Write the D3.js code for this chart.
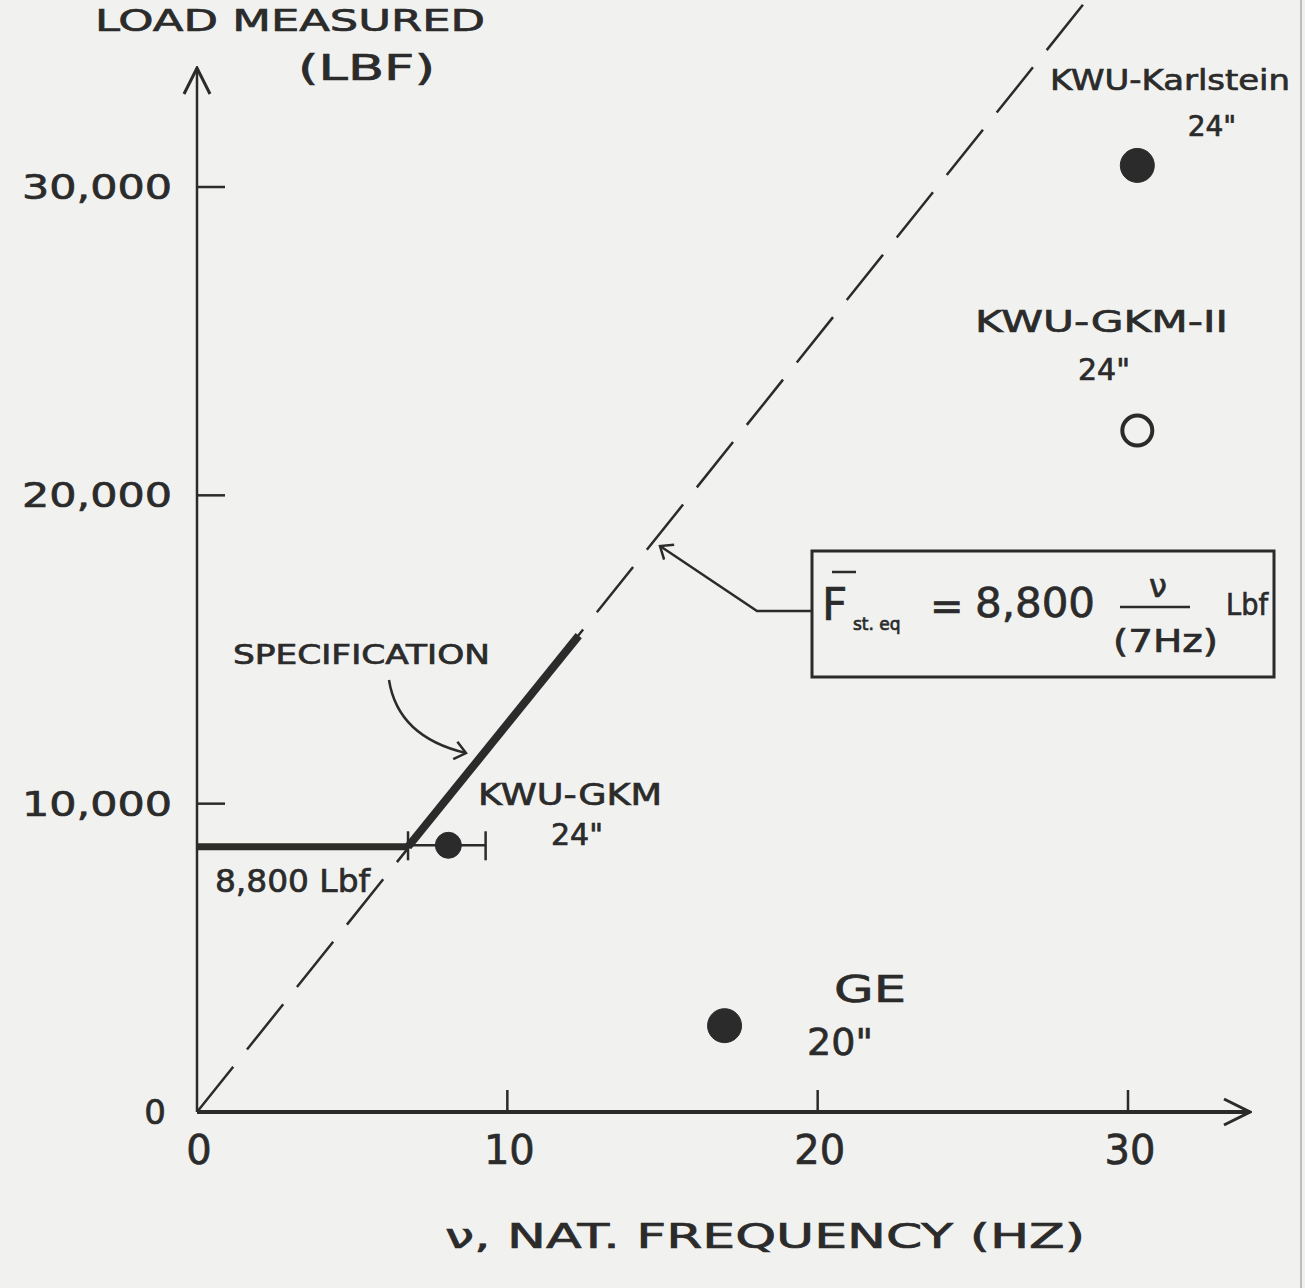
<!DOCTYPE html>
<html>
<head>
<meta charset="utf-8">
<script src="https://cdn.jsdelivr.net/npm/d3@7"></script>
<style>
  html, body { margin: 0; padding: 0; background: #f1f1ef; }
  svg text { font-family: "DejaVu Sans", sans-serif; fill: #2b2b2b; stroke: #2b2b2b; stroke-width: 0.7px; }
</style>
</head>
<body>
<svg id="chart" width="1305" height="1288"></svg>
<script>
// --- data ---
const xTicks = [0, 10, 20, 30];
const yTicks = [10000, 20000, 30000];
const yTickLabels = ["10,000", "20,000", "30,000"];

// dashed line F = 8,800 * nu / 7Hz, as drawn
const eqLine = [[0, 0], [28.7, 36100]];
// specification: flat at 8,800 lbf then along the equation line
const specFlat = [[0, 8600], [6.8, 8600]];
const specSlope = [[6.8, 8600], [12.3, 15450]];

const points = [
  { name: "KWU-GKM", size: "24\"", nu: 8.1, load: 8650, filled: true, err: [6.8, 9.3] },
  { name: "GE", size: "20\"", nu: 17.0, load: 2800, filled: true },
  { name: "KWU-Karlstein", size: "24\"", nu: 30.3, load: 30700, filled: true },
  { name: "KWU-GKM-II", size: "24\"", nu: 30.3, load: 22100, filled: false }
];

const ink = "#2b2b2b";
const svg = d3.select("#chart");

const x = d3.scaleLinear().domain([0, 30]).range([197, 1128]);
const y = d3.scaleLinear().domain([0, 30000]).range([1112, 187]);

// faint scan edge on the right
svg.append("line")
    .attr("x1", 1301).attr("x2", 1301).attr("y1", 0).attr("y2", 1288)
    .attr("stroke", "#bdbdbd").attr("stroke-width", 2);

const defs = svg.append("defs");
// small open arrowhead for annotation arrows
defs.append("marker")
    .attr("id", "openArrow")
    .attr("viewBox", "-12 -10 14 20")
    .attr("refX", 0).attr("refY", 0)
    .attr("markerWidth", 14).attr("markerHeight", 20)
    .attr("markerUnits", "userSpaceOnUse")
    .attr("orient", "auto")
    .append("path")
    .attr("d", "M-11,-9L0,0L-11,9")
    .attr("fill", "none").attr("stroke", ink).attr("stroke-width", 2.5);
// bigger arrowhead for the axes
defs.append("marker")
    .attr("id", "axisArrow")
    .attr("viewBox", "-28 -16 30 32")
    .attr("refX", 0).attr("refY", 0)
    .attr("markerWidth", 30).attr("markerHeight", 32)
    .attr("markerUnits", "userSpaceOnUse")
    .attr("orient", "auto")
    .append("path")
    .attr("d", "M-26,-13L0,0L-26,13")
    .attr("fill", "none").attr("stroke", ink).attr("stroke-width", 3);

svg.append("line")
    .attr("x1", x(0)).attr("y1", y(0)).attr("x2", x(0)).attr("y2", 68)
    .attr("stroke", ink).attr("stroke-width", 2.5)
    .attr("marker-end", "url(#axisArrow)");
svg.append("line")
    .attr("x1", x(0)).attr("y1", y(0)).attr("x2", 1250).attr("y2", y(0))
    .attr("stroke", ink).attr("stroke-width", 4)
    .attr("marker-end", "url(#axisArrow)");

// ticks
svg.append("g").selectAll("line")
    .data(yTicks).join("line")
    .attr("x1", x(0)).attr("x2", x(0) + 28)
    .attr("y1", d => y(d)).attr("y2", d => y(d))
    .attr("stroke", ink).attr("stroke-width", 2.5);
svg.append("g").selectAll("line")
    .data(xTicks.slice(1)).join("line")
    .attr("x1", d => x(d)).attr("x2", d => x(d))
    .attr("y1", y(0)).attr("y2", y(0) - 22)
    .attr("stroke", ink).attr("stroke-width", 2.5);

// tick labels
svg.append("g").selectAll("text")
    .data(yTicks).join("text")
    .attr("x", 172).attr("y", d => y(d) + 12)
    .attr("text-anchor", "end")
    .attr("textLength", 150).attr("lengthAdjust", "spacingAndGlyphs")
    .style("font-size", "34px")
    .text((d, i) => yTickLabels[i]);
svg.append("text")
    .attr("x", 155).attr("y", y(0) + 12)
    .attr("text-anchor", "middle").style("font-size", "34px").text("0");
svg.append("g").selectAll("text")
    .data(xTicks).join("text")
    .attr("x", d => x(d) + 2).attr("y", y(0) + 52)
    .attr("text-anchor", "middle")
    .style("font-size", "40px")
    .text(d => d);

// axis titles
svg.append("text")
    .attr("x", 95).attr("y", 31)
    .attr("textLength", 390).attr("lengthAdjust", "spacingAndGlyphs")
    .style("font-size", "31px").text("LOAD  MEASURED");
svg.append("text")
    .attr("x", 298).attr("y", 80)
    .attr("textLength", 137).attr("lengthAdjust", "spacingAndGlyphs")
    .style("font-size", "36px").text("(LBF)");
svg.append("text")
    .attr("x", 445).attr("y", 1248)
    .attr("textLength", 640).attr("lengthAdjust", "spacingAndGlyphs")
    .style("font-size", "34px").text("ν,  NAT. FREQUENCY   (HZ)");

// dashed equation line
const line = d3.line().x(d => x(d[0])).y(d => y(d[1]));
svg.append("path")
    .attr("d", line(eqLine))
    .attr("fill", "none").attr("stroke", ink).attr("stroke-width", 2.5)
    .attr("stroke-dasharray", "58 22");

// specification (thick)
svg.append("path")
    .attr("d", line(specFlat))
    .attr("fill", "none").attr("stroke", ink).attr("stroke-width", 7);
svg.append("path")
    .attr("d", line(specSlope))
    .attr("fill", "none").attr("stroke", ink).attr("stroke-width", 8);

// error bar for KWU-GKM
const eb = points.filter(d => d.err);
svg.append("g").selectAll("line")
    .data(eb).join("line")
    .attr("x1", d => x(d.err[0])).attr("x2", d => x(d.err[1]))
    .attr("y1", d => y(d.load)).attr("y2", d => y(d.load))
    .attr("stroke", ink).attr("stroke-width", 2.5);
eb.forEach(d => {
    d.err.forEach(e => {
        svg.append("line")
            .attr("x1", x(e)).attr("x2", x(e))
            .attr("y1", y(d.load) - 14).attr("y2", y(d.load) + 15)
            .attr("stroke", ink).attr("stroke-width", 2.5);
    });
});

// points
svg.append("g").selectAll("circle")
    .data(points).join("circle")
    .attr("cx", d => x(d.nu)).attr("cy", d => y(d.load))
    .attr("r", d => d.filled ? (d.err ? 13 : 17) : 15)
    .attr("fill", d => d.filled ? ink : "none")
    .attr("stroke", ink)
    .attr("stroke-width", d => d.filled ? 1 : 4);

// point labels
const labelPos = {
  "KWU-GKM": { x1: 478, y1: 805, w1: 184, x2: 577, y2: 845, fs: 30 },
  "GE": { x1: 834, y1: 1002, w1: 72, x2: 840, y2: 1055, fs: 38 },
  "KWU-Karlstein": { x1: 1050, y1: 90, w1: 240, x2: 1212, y2: 136, fs: 28 },
  "KWU-GKM-II": { x1: 975, y1: 332, w1: 253, x2: 1104, y2: 380, fs: 30 }
};
points.forEach(d => {
    const p = labelPos[d.name];
    svg.append("text")
        .attr("x", p.x1).attr("y", p.y1)
        .attr("textLength", p.w1).attr("lengthAdjust", "spacingAndGlyphs")
        .style("font-size", p.fs + "px")
        .text(d.name);
    svg.append("text")
        .attr("x", p.x2).attr("y", p.y2)
        .attr("text-anchor", "middle")
        .style("font-size", p.fs + "px")
        .text(d.size);
});

// 8,800 Lbf label
svg.append("text")
    .attr("x", 215).attr("y", 892)
    .attr("textLength", 155).attr("lengthAdjust", "spacingAndGlyphs")
    .style("font-size", "32px").text("8,800 Lbf");

// SPECIFICATION label and curved arrow
svg.append("text")
    .attr("x", 233).attr("y", 664)
    .attr("textLength", 257).attr("lengthAdjust", "spacingAndGlyphs")
    .style("font-size", "26px").text("SPECIFICATION");
svg.append("path")
    .attr("d", "M389,680 Q398,737 466,753")
    .attr("fill", "none").attr("stroke", ink).attr("stroke-width", 2.5)
    .attr("marker-end", "url(#openArrow)");

// formula box
const box = svg.append("g");
box.append("rect")
    .attr("x", 812).attr("y", 551).attr("width", 462).attr("height", 126)
    .attr("fill", "none").attr("stroke", ink).attr("stroke-width", 3);
box.append("path")
    .attr("d", "M812,611 L757,611 L660,546")
    .attr("fill", "none").attr("stroke", ink).attr("stroke-width", 2.5)
    .attr("marker-end", "url(#openArrow)");
box.append("text").attr("x", 822).attr("y", 620).style("font-size", "44px").text("F");
box.append("line").attr("x1", 832).attr("x2", 856).attr("y1", 572).attr("y2", 572)
    .attr("stroke", ink).attr("stroke-width", 2.5);
box.append("text").attr("x", 853).attr("y", 630).style("font-size", "17px").text("st. eq");
box.append("text").attr("x", 930).attr("y", 620).style("font-size", "40px").text("=");
box.append("text").attr("x", 975).attr("y", 617)
    .attr("textLength", 120).attr("lengthAdjust", "spacingAndGlyphs")
    .style("font-size", "40px").text("8,800");
box.append("text").attr("x", 1158).attr("y", 597).attr("text-anchor", "middle")
    .style("font-size", "32px").text("ν");
box.append("line").attr("x1", 1120).attr("x2", 1190).attr("y1", 607).attr("y2", 607)
    .attr("stroke", ink).attr("stroke-width", 2.5);
box.append("text").attr("x", 1113).attr("y", 652)
    .attr("textLength", 105).attr("lengthAdjust", "spacingAndGlyphs")
    .style("font-size", "32px").text("(7Hz)");
box.append("text").attr("x", 1226).attr("y", 615)
    .attr("textLength", 42).attr("lengthAdjust", "spacingAndGlyphs")
    .style("font-size", "30px").text("Lbf");
</script>
</body>
</html>
